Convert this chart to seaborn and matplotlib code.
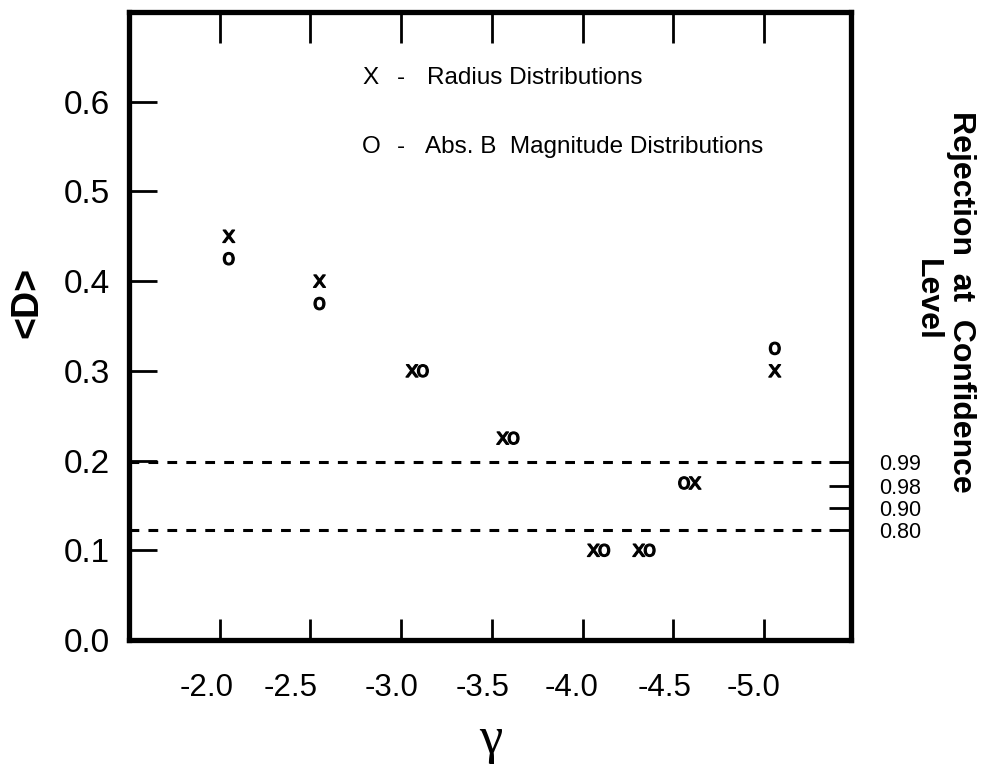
import matplotlib
matplotlib.use("Agg")
import matplotlib.pyplot as plt
import matplotlib.transforms as mtransforms
import seaborn as sns
import pandas as pd

# ---------------- data ----------------
gamma_radius = [-2.05, -2.55, -3.06, -3.56, -4.06, -4.31, -4.62, -5.06]
d_radius     = [0.450, 0.400, 0.300, 0.225, 0.100, 0.100, 0.175, 0.300]
gamma_absb   = [-2.05, -2.55, -3.12, -3.62, -4.12, -4.37, -4.56, -5.06]
d_absb       = [0.425, 0.375, 0.300, 0.225, 0.100, 0.100, 0.175, 0.325]

gamma_ticks = [-2.0, -2.5, -3.0, -3.5, -4.0, -4.5, -5.0]
gamma_tick_labels = ["-2.0", "-2.5", "-3.0", "-3.5", "-4.0", "-4.5", "-5.0"]
d_ticks = [0.0, 0.1, 0.2, 0.3, 0.4, 0.5, 0.6]
d_tick_labels = ["0.0", "0.1", "0.2", "0.3", "0.4", "0.5", "0.6"]

conf_levels = [0.198, 0.172, 0.147, 0.123]
conf_labels = ["0.99", "0.98", "0.90", "0.80"]
threshold_lines = [0.198, 0.123]

# ---------------- style ----------------
sns.set_theme(style="ticks")
plt.rcParams["font.family"] = ["Liberation Sans", "DejaVu Sans"]
plt.rcParams["axes.facecolor"] = "white"
plt.rcParams["figure.facecolor"] = "white"
plt.rcParams["text.color"] = "black"
plt.rcParams["xtick.color"] = "black"
plt.rcParams["ytick.color"] = "black"
plt.rcParams["xtick.labelcolor"] = "black"
plt.rcParams["ytick.labelcolor"] = "black"

fig = plt.figure(figsize=(9.84, 7.66), dpi=100)
W, H = 984, 766
ax = fig.add_axes([129 / W, 1 - 640 / H, (851 - 129) / W, (640 - 12) / H])

df = pd.DataFrame({
    "gamma": gamma_radius + gamma_absb,
    "D": d_radius + d_absb,
    "kind": ["Radius"] * len(gamma_radius) + ["AbsB"] * len(gamma_absb),
})
sns.scatterplot(data=df, x="gamma", y="D", style="kind",
                markers={"Radius": r"$\mathsf{x}$", "AbsB": r"$\mathsf{o}$"},
                color="black", edgecolor="black", linewidth=0.9, s=80,
                legend=False, ax=ax, zorder=3)

for yv in threshold_lines:
    ax.axhline(yv, color="black", lw=2.2, linestyle=(0, (3.2, 3.0)), zorder=2)

ax.set_xlim(-1.5, -5.48)
ax.set_ylim(0, 0.7)
ax.set_xlabel("")
ax.set_ylabel("")

for s in ax.spines.values():
    s.set_visible(True)
    s.set_linewidth(3.8)
    s.set_color("black")

ax.set_xticks(gamma_ticks)
ax.set_xticklabels(gamma_tick_labels)
ax.set_yticks(d_ticks)
ax.set_yticklabels(d_tick_labels)
ax.tick_params(axis="x", direction="in", length=15, width=2, top=True,
               bottom=True, labelsize=22.5, pad=24)
ax.tick_params(axis="y", direction="in", length=20, width=2, left=True,
               right=False, labelsize=24, pad=14)

# longer ticks on top edge
for t in ax.xaxis.get_major_ticks():
    t.tick2line.set_markersize(22)
# the 0.2 level is marked by the dashed line instead of a tick
ax.yaxis.get_major_ticks()[2].tick1line.set_visible(False)

# shift x tick labels slightly left (as in the original hand-made chart)
label_shift_px = [-13, -20, -10, -9, -11, -9, -10]
for lab, dx in zip(ax.get_xticklabels(), label_shift_px):
    lab.set_transform(lab.get_transform() +
                      mtransforms.ScaledTranslation(dx / 100, 0, fig.dpi_scale_trans))

# right-side confidence level axis
ax2 = ax.twinx()
ax2.set_ylim(0, 0.7)
ax2.set_yticks(conf_levels)
ax2.set_yticklabels(conf_labels)
ax2.tick_params(axis="y", direction="in", length=16, width=2, labelsize=15.5,
                pad=20)
for s in ax2.spines.values():
    s.set_visible(False)
ax2.grid(False)
ax.grid(False)

# legend text
fs_leg = 17.5
fig.text(362 / W, 1 - 78 / H, "X", fontsize=fs_leg, va="center", ha="left")
fig.text(397 / W, 1 - 78 / H, "-", fontsize=fs_leg, va="center", ha="left")
fig.text(427 / W, 1 - 78 / H, "Radius Distributions", fontsize=fs_leg, va="center", ha="left")
fig.text(362 / W, 1 - 147 / H, "O", fontsize=fs_leg, va="center", ha="left")
fig.text(397 / W, 1 - 147 / H, "-", fontsize=fs_leg, va="center", ha="left")
fig.text(425 / W, 1 - 147 / H, "Abs. B  Magnitude Distributions", fontsize=fs_leg,
         va="center", ha="left")

# axis titles
fig.text(27 / W, 1 - 302 / H, "<D>", fontsize=27, fontweight="bold",
         rotation=90, va="center", ha="center")
fig.text(491 / W, 1 - 740 / H, "γ", fontsize=38, va="center", ha="center",
         family=["Liberation Serif", "DejaVu Serif"])
fig.text(961 / W, 1 - 302 / H, "Rejection  at  Confidence", fontsize=23,
         fontweight="bold", rotation=-90, va="center", ha="center")
fig.text(927 / W, 1 - 300 / H, "Level", fontsize=23,
         fontweight="bold", rotation=-90, va="center", ha="center")

fig.savefig("out.png", dpi=100)
